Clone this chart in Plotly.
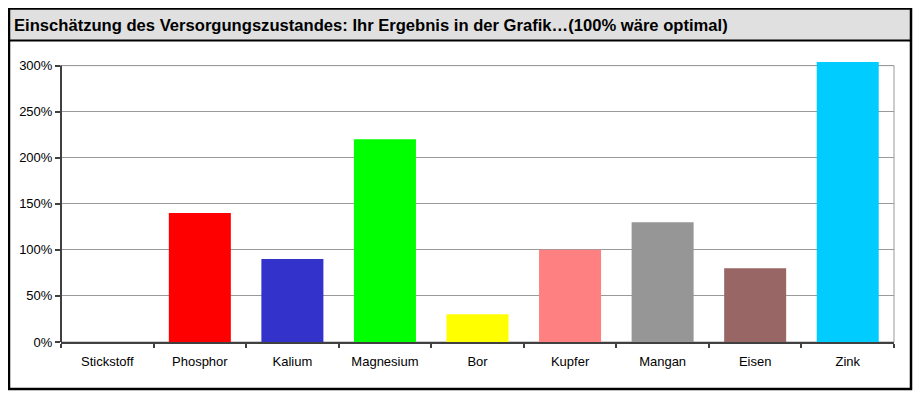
import plotly.graph_objects as go

categories = ["Stickstoff", "Phosphor", "Kalium", "Magnesium", "Bor", "Kupfer", "Mangan", "Eisen", "Zink"]
values = [0, 140, 90, 220, 30, 100, 130, 80, 304]
colors = ["#FFFFFF", "#FF0000", "#3333CC", "#00FF00", "#FFFF00", "#FF8080", "#969696", "#996666", "#00CCFF"]
y_tick_values = [0, 50, 100, 150, 200, 250, 300]
y_tick_labels = ["0%", "50%", "100%", "150%", "200%", "250%", "300%"]
title_text = "Einschätzung des Versorgungszustandes: Ihr Ergebnis in der Grafik…(100% wäre optimal)"

W, H = 924, 399
OFF = 8  # page body margin
Y_MAX = 305
# target pixel positions (reference coords)
L_ref, R_ref, Y0_ref, Y300_ref = 61, 894, 342, 66
L = L_ref - OFF
R = R_ref - OFF
B = Y0_ref - OFF
T = B - (Y0_ref - Y300_ref) * Y_MAX / 300.0

def px(x):
    return (x - OFF - L) / (R - L)

def py(y):
    return (B - (y - OFF)) / (B - T)

fig = go.Figure()
fig.add_trace(go.Bar(
    x=categories, y=values, marker=dict(color=colors, line=dict(width=0)),
    showlegend=False, hoverinfo="x+y"
))

shapes = [
    # title bar
    dict(type="rect", xref="paper", yref="paper", x0=px(9), x1=px(911), y0=py(9), y1=py(41),
         fillcolor="#E0E0E0", line=dict(width=0), layer="below"),
    # plot area border (top at 300%)
    dict(type="rect", xref="paper", yref="y", x0=0, x1=1, y0=0, y1=300,
         line=dict(color="#999999", width=1), layer="below"),
    # y axis line
    dict(type="line", xref="paper", yref="y", x0=0, x1=0, y0=0, y1=300,
         line=dict(color="#404040", width=2)),
    # title separator
    dict(type="line", xref="paper", yref="paper", x0=px(9), x1=px(911), y0=py(41), y1=py(41),
         line=dict(color="#000000", width=2)),
    # outer frame
    dict(type="rect", xref="paper", yref="paper", x0=px(9), x1=px(911), y0=py(9), y1=py(389),
         line=dict(color="#000000", width=2.5)),
]

fig.update_layout(
    width=W, height=H,
    margin=dict(l=L, r=W - R, t=T, b=H - B),
    paper_bgcolor="white", plot_bgcolor="white",
    font=dict(family="Liberation Sans, Arial, sans-serif", size=13, color="#000000"),
    bargap=0.33,
    shapes=shapes,
    annotations=[dict(text="<b>" + title_text + "</b>", xref="paper", yref="paper",
                      x=px(12), y=py(26), xanchor="left", yanchor="middle", showarrow=False,
                      font=dict(size=16.6, color="#000000", family="Liberation Sans, Arial, sans-serif"))],
    xaxis=dict(showline=True, linecolor="#404040", linewidth=2, ticks="outside", ticklen=4,
               tickcolor="#404040", tickwidth=1.5, tickson="boundaries", showgrid=False,
               ticklabelstandoff=6, tickfont=dict(size=13), fixedrange=True),
    yaxis=dict(range=[0, Y_MAX], tickmode="array", tickvals=y_tick_values, ticktext=y_tick_labels,
               showline=False, ticks="outside", ticklen=5, tickcolor="#404040", tickwidth=1.5,
               showgrid=True, gridcolor="#999999", gridwidth=1, zeroline=False,
               tickfont=dict(size=13), fixedrange=True),
)

fig.write_html("out.html")
